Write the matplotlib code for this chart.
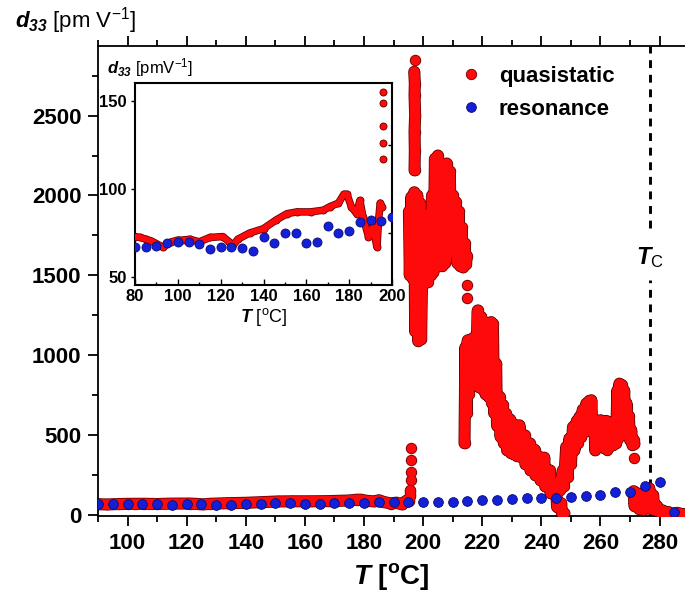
import numpy as np
import matplotlib
matplotlib.use('Agg')
from matplotlib import pyplot as plt
from matplotlib.lines import Line2D

plt.rcParams['font.family'] = ['Liberation Sans', 'DejaVu Sans']
plt.rcParams['font.weight'] = 'bold'
plt.rcParams['mathtext.fontset'] = 'custom'
plt.rcParams['mathtext.rm'] = 'Liberation Sans:weight=normal:style=normal'
plt.rcParams['mathtext.it'] = 'Liberation Sans:weight=bold:style=italic'
plt.rcParams['mathtext.sf'] = 'Liberation Sans:weight=bold:style=italic'
plt.rcParams['mathtext.bf'] = 'Liberation Sans:weight=bold:style=normal'

# resonance d33 (every 5 C)
res_T = [80, 85, 90, 95, 100, 105, 110, 115, 120, 125, 130, 135, 140, 145, 150, 155, 160,
         165, 170, 175, 180, 185, 190, 195, 200, 205, 210, 215, 220, 225, 230, 235, 240,
         245, 250, 255, 260, 265, 270, 275, 280, 285]
res_d = [67, 67, 67.5, 69.5, 70, 70, 69, 66, 67, 67, 66.5, 65, 72.5, 69.5, 75, 75, 69.5,
         70, 79, 75, 76, 81, 82.5, 82, 84, 85, 85, 90, 94, 94, 99, 105, 105,
         105, 115, 119, 126, 146, 146, 182, 205, 20]

qs_base_T = [80, 82.5, 85, 87.5, 90, 93, 97, 100, 102.5, 105.5, 110, 115, 121, 124, 125.5,
             128, 133.5, 140, 146, 151, 155.5, 162, 168, 171, 175, 177.5, 179, 181, 183.5,
             185, 186.5, 189, 191, 193, 193.7, 194.5, 195.3]
qs_base_d = [73, 72.5, 71.5, 70.5, 69, 67, 70, 71, 71, 71.5, 70, 72.5, 73, 70, 67.5,
             71.5, 75, 77.5, 82.5, 86, 87, 87, 88, 90, 92, 97, 97, 90, 86,
             93.5, 84, 73, 78.5, 67, 82, 92, 90]

qs_dots_T = [195.6, 195.6, 195.6, 195.6, 195.6, 196, 196, 196, 196, 197.1, 214.8, 214.8, 271.5]
qs_dots_d = [117, 126, 136, 149, 155, 220, 273, 346, 419, 2848, 1437, 1356, 360]

qs_spike_T = [197.0, 197.2, 197.1, 197.3, 197.1, 197.2, 197.1]
qs_spike_d = [2774, 2700, 2628, 2500, 2400, 2280, 2157]

qs_blob_T = [195.2, 195.5, 196, 196.5, 197, 197.3, 198, 198.3, 199, 199.3, 200, 200.5,
             201, 201.5, 202, 202.5, 203, 203.5, 204, 204.5, 205, 205.5, 206, 206.5,
             207, 207.5, 208, 208.5, 209, 209.5, 210, 210.5, 211, 211.5, 212, 212.5,
             213, 213.5, 214, 214.5, 214.8]
qs_blob_d = [1900, 1500, 1990, 1480, 2020, 1150, 2000, 1090, 1950, 1100, 1880, 1450,
             1820, 1460, 1880, 1500, 2000, 1520, 2230, 1560, 2250, 1560, 2180, 1560,
             2190, 1580, 2200, 1640, 2150, 1700, 2000, 1650, 1960, 1580, 1900, 1560,
             1800, 1550, 1700, 1570, 1620]

qs_hump_T = [214.0, 214.3, 214.7, 215.1, 215.5, 216.3, 216.6, 217.4, 217.7, 218.5, 218.8,
             219.7, 220, 220.8, 221.1, 221.9, 222.2, 223, 223.3, 223.6, 224, 224.7, 225,
             225.9, 226.2, 227, 227.3, 228.1, 228.4, 229.3, 229.6, 230.4, 230.7, 231.5,
             231.8, 232.6, 233, 234.3, 234.6, 236, 236.3, 237.7, 238, 239.4, 239.7, 241,
             241.3, 242.8, 243.1, 245, 245.3, 246.7, 247, 247.8]
qs_hump_d = [450, 1050, 640, 1094, 760, 1100, 844, 1115, 830, 1281, 802,
             1240, 790, 1052, 760, 1198, 740, 1208, 700, 1198, 640, 948, 560,
             740, 490, 690, 450, 635, 406, 600, 390, 573, 380, 560,
             370, 562, 365, 500, 320, 450, 281, 410, 250, 365, 219, 360,
             180, 281, 137, 200, 52, 75, 0, 12]

qs_rise_T = [246.2, 246.8, 247.3, 247.6, 248.4, 248.9, 249.5, 250, 250.7, 251.2, 252, 252.3,
             252.9, 253.5, 254, 254.5, 255.2, 255.5, 256.2, 256.5, 256.9, 257.3, 258, 258.2,
             259, 259.3, 260, 260.3, 261, 261.3, 262, 262.3, 263, 263.3, 264, 264.3, 265,
             265.3, 265.7, 266, 266.4, 266.8, 267.2, 267.6, 268, 268.4, 268.8, 269.2, 269.6,
             270, 270.4, 270.8, 271.2, 271.5]
qs_rise_d = [156, 240, 281, 180, 427, 240, 480, 320, 552, 406, 590, 450,
             615, 490, 660, 520, 698, 531, 715, 560, 719, 520, 573, 406,
             590, 430, 594, 448, 580, 420, 590, 410, 580, 430, 570, 440, 570,
             450, 780, 480, 823, 500, 815, 520, 780, 560, 700, 500, 620,
             470, 531, 440, 470, 448]

qs_tail_T = [271.2, 271.5, 272.5, 273, 274, 274.5, 275.5, 276, 276.5, 277, 277.8, 278.3,
             279, 280, 281, 282, 283, 284.5, 286, 288, 290]
qs_tail_d = [150, 60, 137, 40, 130, 35, 160, 50, 169, 40, 125, 30,
             60, 15, 30, 10, 20, 5, 15, 5, 10]

T_curie = 276.6


def join(*segs):
    xs, ys = [], []
    for sx, sy in segs:
        xs += list(sx) + [np.nan]
        ys += list(sy) + [np.nan]
    return np.array(xs), np.array(ys)


line_T, line_d = join((qs_base_T, qs_base_d), (qs_spike_T, qs_spike_d), (qs_blob_T, qs_blob_d),
                      (qs_hump_T, qs_hump_d), (qs_rise_T, qs_rise_d), (qs_tail_T, qs_tail_d))

red = '#ff0a0a'
dark = '#6a0000'
blue = '#1420d8'


def draw(ax, lw, ms, bms):
    ax.plot(line_T, line_d, '-o', color=dark, lw=lw + 1.2, ms=ms + 1.2, mew=0,
            solid_joinstyle='round', solid_capstyle='round', zorder=2)
    ax.plot(qs_dots_T, qs_dots_d, 'o', color=dark, ms=ms + 1.2, mew=0, zorder=2)
    ax.plot(line_T, line_d, '-o', color=red, lw=lw, ms=ms, mew=0,
            solid_joinstyle='round', solid_capstyle='round', zorder=3)
    ax.plot(qs_dots_T, qs_dots_d, 'o', color=red, ms=ms, mew=0, zorder=3)
    ax.plot(res_T, res_d, 'o', color=blue, mec='#0a0a70', mew=0.6, ms=bms, zorder=4)


fig = plt.figure(figsize=(6.85, 5.95), dpi=100)
ax = fig.add_axes([98 / 685, 79 / 595, 587 / 685, 470 / 595])
draw(ax, 7.5, 7, 7)
ax.set_xlim(90, 288.6)
ax.set_ylim(-5, 2935)
ax.set_xticks([100, 120, 140, 160, 180, 200, 220, 240, 260, 280])
ax.set_xticks(np.arange(90, 290, 10), minor=True)
ax.set_yticks([0, 500, 1000, 1500, 2000, 2500])
ax.set_yticks(np.arange(0, 2900, 250), minor=True)
ax.spines['right'].set_visible(False)
for s in ['left', 'bottom', 'top']:
    ax.spines[s].set_linewidth(1.3)
ax.tick_params(which='both', direction='out', top=True, right=False, width=1.3,
               labelsize=16, pad=5)
ax.tick_params(which='major', length=7)
ax.tick_params(which='minor', length=4)
ax.set_xlabel(r'$\mathit{T}$ [$^{\mathbf{o}}$C]', fontsize=20, fontweight='bold', labelpad=5)

# Curie temperature marker
ax.plot([T_curie, T_curie], [1794, 2935], color='black', lw=2.1, dashes=(2.7, 2.3), zorder=1)
ax.plot([T_curie, T_curie], [-5, 1469], color='black', lw=2.1, dashes=(2.7, 2.3), zorder=1)
ax.text(T_curie, 1612, r'$\mathit{T}_{\mathrm{C}}$', fontsize=17, ha='center', va='center')

handles = [Line2D([], [], ls='none', marker='o', color=red, mec=dark, mew=0.6, ms=7.5),
           Line2D([], [], ls='none', marker='o', color=blue, mec='#0a0a70', mew=0.6, ms=7)]
ax.legend(handles, ['quasistatic', 'resonance'], loc='upper left',
          bbox_to_anchor=((460 - 98) / 587, (516 - 66) / 470), frameon=False,
          borderpad=0, borderaxespad=0, handlelength=1.0, handletextpad=0.75,
          labelspacing=0.55, fontsize=16)

fig.text(15 / 685, 1 - 28 / 595, r'$\mathit{d}_{\mathsf{33}}$ [pm V$^{\mathrm{-1}}$]',
         fontsize=16, fontweight='normal', va='baseline')

# inset
axi = fig.add_axes([135 / 685, (595 - 285) / 595, 257 / 685, 202 / 595])
draw(axi, 4.2, 4.5, 6.5)
axi.set_xlim(80, 200)
axi.set_ylim(45.5, 160.2)
axi.set_xticks([80, 100, 120, 140, 160, 180, 200])
axi.set_xticks(np.arange(80, 201, 10), minor=True)
axi.set_yticks([50, 100, 150])
axi.set_yticks([50, 75, 100, 125, 150], minor=True)
for s in axi.spines.values():
    s.set_linewidth(1.5)
axi.tick_params(which='both', width=1.0, labelsize=12, pad=3)
axi.tick_params(axis='x', which='both', direction='in')
axi.tick_params(axis='x', which='major', length=4)
axi.tick_params(axis='x', which='minor', length=2.5)
axi.tick_params(axis='y', which='major', direction='out', length=3)
axi.tick_params(axis='y', which='minor', right=True, left=False, direction='in', length=3)
axi.set_xlabel(r'$\mathit{T}$ [$^{\mathrm{o}}$C]', fontsize=13, fontweight='normal', labelpad=1)
fig.text(107 / 685, 1 - 73 / 595, r'$\mathit{d}_{\mathsf{33}}$ [pmV$^{\mathrm{-1}}$]',
         fontsize=12, fontweight='normal', va='baseline')

fig.savefig('out.png', dpi=100)
